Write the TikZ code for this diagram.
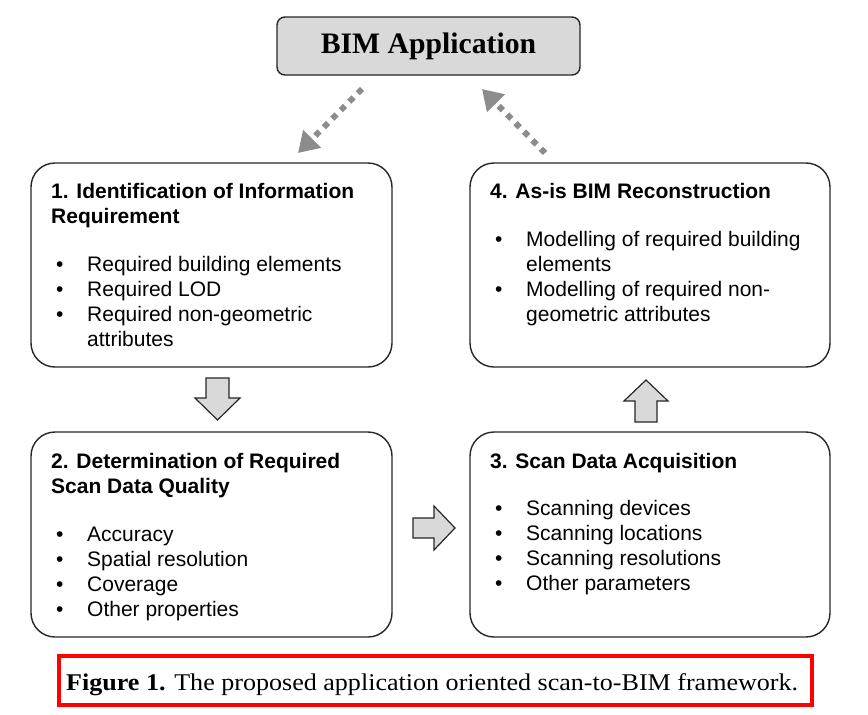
\documentclass[tikz,border=0pt]{standalone}
\usepackage{fontspec}
\setmainfont{Liberation Serif}
\newfontfamily\arialf{Liberation Sans}
\usetikzlibrary{arrows.meta}
\definecolor{boxgray}{HTML}{D9D9D9}
\definecolor{dotgray}{HTML}{8C8C8C}
\definecolor{edgec}{HTML}{262626}
\definecolor{capred}{HTML}{FF0000}
\begin{document}
\begin{tikzpicture}[x=1pt,y=-1pt,
  stagebox/.style={draw=edgec,line width=1.4pt,rounded corners=24pt},
  bimbox/.style={draw=edgec,line width=1.4pt,rounded corners=8pt,fill=boxgray},
  ttl/.style={anchor=base west,inner sep=0pt,font=\arialf\fontsize{21}{25}\selectfont\bfseries},
  itm/.style={anchor=base west,inner sep=0pt,font=\arialf\fontsize{21}{25}\selectfont},
  blockarrow/.style={draw=edgec,line width=1.2pt,fill=boxgray,line join=miter},
  dotarrow/.style={draw=dotgray,line width=6pt,dash pattern=on 6pt off 6pt,
     -{Triangle[length=20pt,width=24pt,fill=dotgray]}}
]
\useasboundingbox (0,0) rectangle (868,715);
% BIM box
\node[bimbox,minimum width=303pt,minimum height=58pt,inner sep=0pt,
  font=\fontsize{29.7}{32}\selectfont\bfseries] (bim) at (428.5,46) {BIM Application};
% stage boxes
\node[stagebox,minimum width=361pt,minimum height=204pt,inner sep=0pt] (s1) at (211.5,265) {};
\node[stagebox,minimum width=360pt,minimum height=204pt,inner sep=0pt] (s4) at (650,265) {};
\node[stagebox,minimum width=361pt,minimum height=205pt,inner sep=0pt] (s2) at (211.5,534.5) {};
\node[stagebox,minimum width=360pt,minimum height=205pt,inner sep=0pt] (s3) at (650,534.5) {};

% box 1 text
\node[ttl] (t1a) at (51,198) {1. Identification of Information};
\node[ttl] (t1b) at (51,223) {Requirement};
\foreach \yy/\tx [count=\i] in {271/Required building elements,296/Required LOD,321/Required non-geometric,346/attributes}{
  \node[itm] (i1\i) at (87,\yy) {\tx};
}
\foreach \yy [count=\i] in {271,296,321}{\node[itm] (b1\i) at (56,\yy) {•};}

% box 4 text
\node[ttl] (t4a) at (490,198) {4. As-is BIM Reconstruction};
\foreach \yy/\tx [count=\i] in {246/Modelling of required building,271/elements,296/Modelling of required non-,321/geometric attributes}{
  \node[itm] (i4\i) at (526,\yy) {\tx};
}
\foreach \yy [count=\i] in {246,296}{\node[itm] (b4\i) at (495,\yy) {•};}

% box 2 text
\node[ttl] (t2a) at (51,468) {2. Determination of Required};
\node[ttl] (t2b) at (51,493) {Scan Data Quality};
\foreach \yy/\tx [count=\i] in {541/Accuracy,566/Spatial resolution,591/Coverage,616/Other properties}{
  \node[itm] (i2\i) at (87,\yy) {\tx};
  \node[itm] (b2\i) at (56,\yy) {•};
}

% box 3 text
\node[ttl] (t3a) at (490,468) {3. Scan Data Acquisition};
\foreach \yy/\tx [count=\i] in {515/Scanning devices,540/Scanning locations,565/Scanning resolutions,590/Other parameters}{
  \node[itm] (i3\i) at (526,\yy) {\tx};
  \node[itm] (b3\i) at (495,\yy) {•};
}

% block arrows
\draw[blockarrow] (206,378) -- (229,378) -- (229,398) -- (240,398) -- (217.5,420) -- (195,398) -- (206,398) -- cycle;
\draw[blockarrow] (635,422) -- (657,422) -- (657,401) -- (668,401) -- (646,380) -- (624,401) -- (635,401) -- cycle;
\draw[blockarrow] (413,518) -- (434,518) -- (434,506) -- (455,528) -- (434,550) -- (434,538) -- (413,538) -- cycle;

% dotted arrows
\coordinate (d1s) at (362,89);
\coordinate (d1e) at (298,153);
\coordinate (d2s) at (545,153);
\coordinate (d2e) at (482,89);
\draw[dotarrow] (d1s) -- (d1e);
\draw[dotarrow] (d2s) -- (d2e);

% caption
\node[draw=capred,line width=4pt,minimum width=753pt,minimum height=49pt,inner sep=0pt] (cap) at (435.5,680.5) {};
\node[anchor=base west,inner sep=0pt,font=\fontsize{24}{27}\selectfont] (capt) at (66,690) {\scalebox{1.086}[1]{\textbf{Figure 1.} The proposed application oriented scan-to-BIM framework.}};
\end{tikzpicture}
\end{document}
